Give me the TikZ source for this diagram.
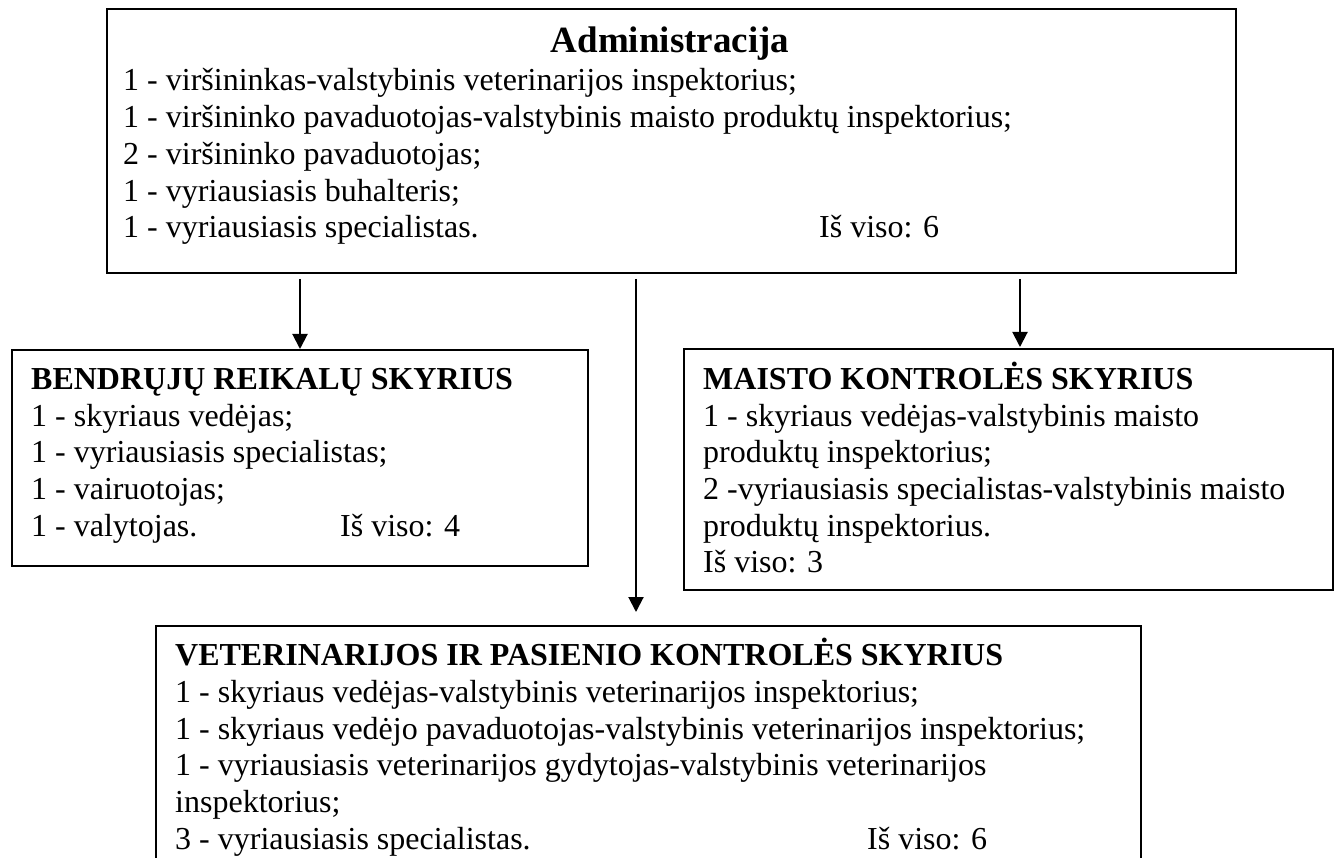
\documentclass[tikz,border=0pt]{standalone}
\usepackage{fontspec}
\setmainfont{Liberation Serif}
\usetikzlibrary{arrows.meta,calc}
\newcommand\bodyfnt{\fontsize{32}{36.8}\selectfont}
\newcommand\headfnt{\fontsize{37}{42}\selectfont\bfseries}
\tikzset{
  box/.style={draw, line width=2pt, inner sep=0pt, anchor=north west},
  txt/.style={anchor=base west, inner sep=0pt, font=\bodyfnt},
  ttl/.style={anchor=base west, inner sep=0pt, font=\bodyfnt\bfseries},
  arr/.style={line width=2pt, -{Triangle[length=15pt,width=15pt]}}
}
\begin{document}
\begin{tikzpicture}[x=1pt,y=-1pt]
\useasboundingbox (0,0) rectangle (1338,858);
\clip (0,0) rectangle (1338,858);
\fill[white] (0,0) rectangle (1338,858);
% boxes
\node[box, minimum width=1129pt, minimum height=264pt] (admin) at (106,8) {};
\node[box, minimum width=576pt, minimum height=216pt] (bendr) at (11,349) {};
\node[box, minimum width=649pt, minimum height=241pt] (maisto) at (683,348) {};
\node[box, minimum width=985pt, minimum height=280pt] (vet) at (155,625) {};
% administracija
\node[anchor=base, inner sep=0pt, font=\headfnt] (a0) at (670,53) {Administracija};
\node[txt] (a1) at (123,91) {1 - viršininkas-valstybinis veterinarijos inspektorius;};
\node[txt] (a2) at (123,128) {1 - viršininko pavaduotojas-valstybinis maisto produktų inspektorius;};
\node[txt] (a3) at (123,165) {2 - viršininko pavaduotojas;};
\node[txt] (a4) at (123,202) {1 - vyriausiasis buhalteris;};
\node[txt] (a5) at (123,238) {1 - vyriausiasis specialistas.};
\node[txt] (a6) at (819,238) {Iš viso: 6};
% bendruju
\node[ttl] (b0) at (31,389) {BENDRŲJŲ REIKALŲ SKYRIUS};
\node[txt] (b1) at (31,426) {1 - skyriaus vedėjas;};
\node[txt] (b2) at (31,462) {1 - vyriausiasis specialistas;};
\node[txt] (b3) at (31,499) {1 - vairuotojas;};
\node[txt] (b4) at (31,536) {1 - valytojas.};
\node[txt] (b5) at (340,536) {Iš viso: 4};
% maisto
\node[ttl] (m0) at (703,389) {MAISTO KONTROLĖS SKYRIUS};
\node[txt] (m1) at (703,426) {1 - skyriaus vedėjas-valstybinis maisto};
\node[txt] (m2) at (703,462) {produktų inspektorius;};
\node[txt] (m3) at (703,499) {2 -vyriausiasis specialistas-valstybinis maisto};
\node[txt] (m4) at (703,536) {produktų inspektorius.};
\node[txt] (m5) at (703,572) {Iš viso: 3};
% veterinarijos
\node[ttl] (v0) at (175,665) {VETERINARIJOS IR PASIENIO KONTROLĖS SKYRIUS};
\node[txt] (v1) at (175,702) {1 - skyriaus vedėjas-valstybinis veterinarijos inspektorius;};
\node[txt] (v2) at (175,739) {1 - skyriaus vedėjo pavaduotojas-valstybinis veterinarijos inspektorius;};
\node[txt] (v3) at (175,775) {1 - vyriausiasis veterinarijos gydytojas-valstybinis veterinarijos};
\node[txt] (v4) at (175,812) {inspektorius;};
\node[txt] (v5) at (175,849) {3 - vyriausiasis specialistas.};
\node[txt] (v6) at (867,849) {Iš viso: 6};
% arrows
\coordinate (s1) at ($(admin.south -| bendr.north)+(0,5)$);
\coordinate (s2) at ($(admin.south -| vet.north)+(-12.5,5)$);
\coordinate (e2) at ($(vet.north)+(-12.5,-13)$);
\coordinate (s3) at ($(admin.south -| maisto.north)+(11.5,5)$);
\coordinate (e3) at ($(maisto.north)+(11.5,-1)$);
\draw[arr] (s1) -- (bendr.north);
\draw[arr] (s2) -- (e2);
\draw[arr] (s3) -- (e3);
\end{tikzpicture}
\end{document}
